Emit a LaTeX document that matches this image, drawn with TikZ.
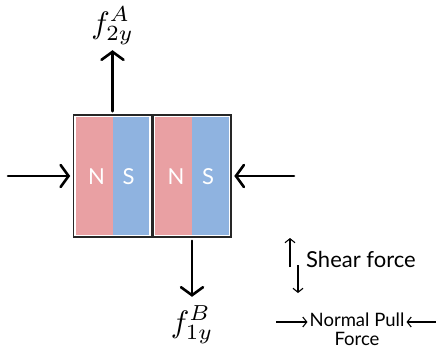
\documentclass[tikz,border=0pt]{standalone}
\usepackage{amsmath}
\usepackage{fontspec}
\setmainfont{Lato}
\usetikzlibrary{arrows.meta}

\definecolor{northred}{HTML}{E9A0A3}
\definecolor{southblue}{HTML}{8FB3E0}

\newcommand{\forcelabel}[1]{\scalebox{3.1}{$#1$}}

\begin{document}
\begin{tikzpicture}[x=1pt,y=-1pt,
        magnet/.style={draw=black!85,line width=1.6pt,minimum width=78pt,minimum height=122pt,inner sep=0pt},
        pole/.style={text=white,font=\fontsize{22}{26}\selectfont,inner sep=0pt},
        force/.style={line width=2.6pt,line cap=round,-{Straight Barb[length=8pt,width=22pt,line cap=round]}},
        thinforce/.style={line width=1.1pt,-{Straight Barb[length=4pt,width=10pt]}},
        flabel/.style={inner sep=0pt}]
            \useasboundingbox (0,0) rectangle (436,348);
            \def\w{78}
            \def\h{122}
            \def\gap{2.2}

            % the two magnets
            \foreach \m/\cx in {1/112.5,2/192}{
                \fill[northred] (\cx-\w/2+\gap,176-\h/2+\gap) rectangle (\cx,176+\h/2-\gap);
                \fill[southblue] (\cx,176-\h/2+\gap) rectangle (\cx+\w/2-\gap,176+\h/2-\gap);
                \node[magnet] (m\m) at (\cx,176) {};
                \node[pole] (n\m) at (\cx-16,177) {N};
                \node[pole] (s\m) at (\cx+16,177) {S};
            }

            % forces on the magnets
            \node[flabel] (fA) at (112.5,26) {\forcelabel{f_{2y}^A}};
            \node[flabel] (fB) at (192,325) {\forcelabel{f_{1y}^B}};
            \coordinate (inL) at (8,176);
            \coordinate (inR) at (294,176);
            \draw[force,shorten <=3pt,shorten >=5pt] (m1.north) -- (fA.south);
            \draw[force,shorten <=3pt,shorten >=9pt] (m2.south) -- (fB.north);
            \draw[force,shorten >=2.5pt] (inL) -- (m1.west);
            \draw[force,shorten >=2.5pt] (inR) -- (m2.east);

            % legend
            \node[anchor=west,font=\fontsize{22}{26}\selectfont,inner sep=0pt] (shear) at (306,259) {Shear force};
            \coordinate (shUp) at (290,267);
            \coordinate (shDown) at (298,265);
            \draw[thinforce] (shUp) -- ++(0,-29);
            \draw[thinforce] (shDown) -- ++(0,28);

            \node[align=center,font=\fontsize{18.5}{19}\selectfont,inner sep=0pt] (pull) at (357,329) {Normal Pull\\Force};
            \coordinate (pullL) at (276,322);
            \coordinate (pullR) at (436,322);
            \draw[thinforce,shorten >=2pt] (pullL) -- (pullL -| pull.west);
            \draw[thinforce,shorten >=2pt] (pullR) -- (pullR -| pull.east);
        \end{tikzpicture}
\end{document}
